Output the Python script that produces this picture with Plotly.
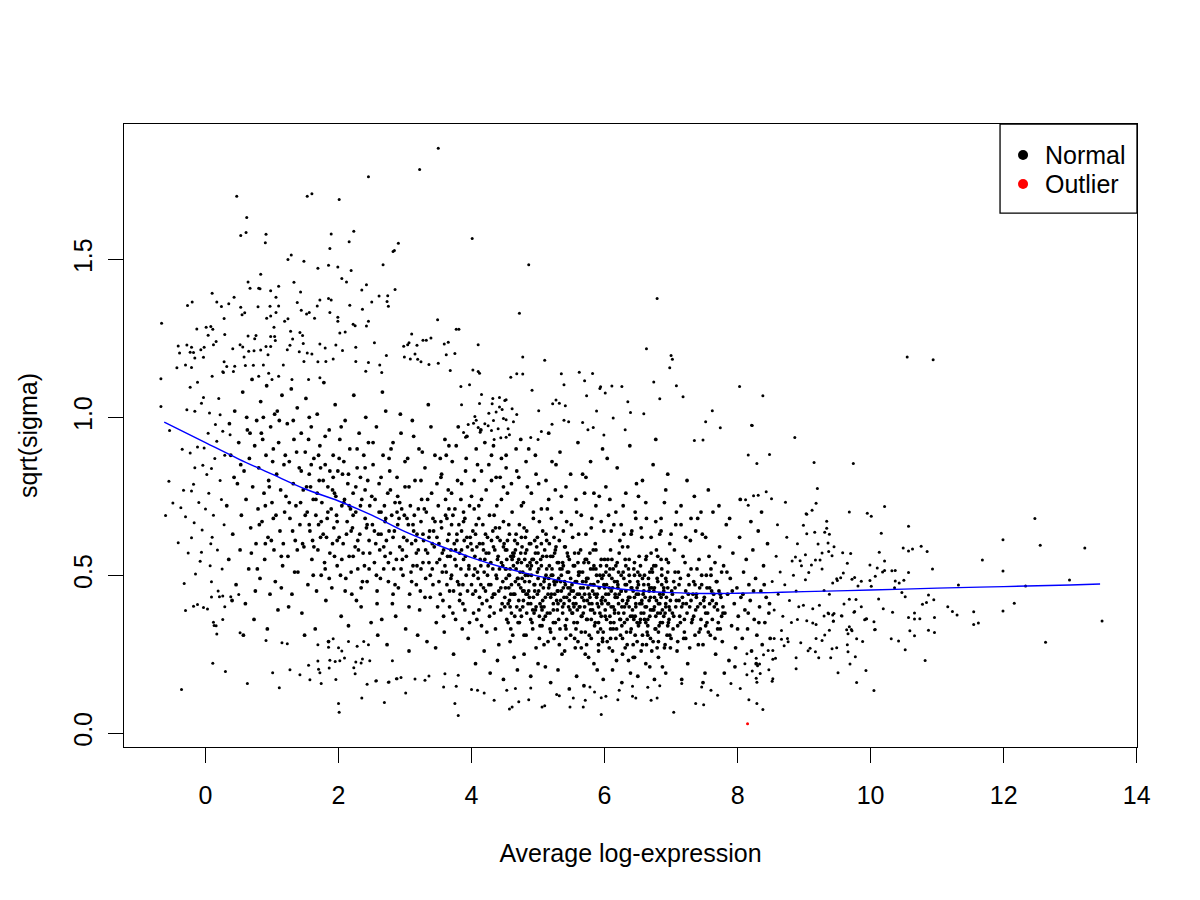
import plotly.graph_objects as go

# ---------------- data ----------------
fringe_top = [
(3.50,1.852),(3.22,1.785),(2.45,1.762),(0.47,1.70),(1.60,1.708),(1.53,1.70),(2.01,1.69),(0.62,1.633),(0.53,1.576),(0.61,1.585),
(0.91,1.58),(0.90,1.553),(1.89,1.581),(2.23,1.589),(2.16,1.556),(1.87,1.535),(2.90,1.551),(2.84,1.528),(2.82,1.525),(4.01,1.566),
(4.86,1.483),(1.29,1.514),(1.24,1.50),(1.48,1.494),(0.83,1.453),(1.69,1.472),(1.85,1.482),(1.99,1.476),(2.19,1.465),(2.67,1.483),
(2.05,1.44),(2.12,1.429),(2.42,1.42),(2.35,1.403),(2.85,1.405),(2.61,1.384),(2.74,1.385),(2.73,1.367),(2.75,1.352),(2.50,1.365),
(3.49,1.309),(4.72,1.33),(3.77,1.279),(3.81,1.279),(4.10,1.23),(4.77,1.191),(4.68,1.138),(4.77,1.137),(4.59,1.127),(4.02,1.15),
(4.10,1.145),(3.68,1.148),(-0.66,1.298),(-0.67,1.122),(-0.27,1.354),(-0.20,1.365),(0.10,1.393),(0.17,1.365),(0.24,1.351),(0.35,1.36),
(0.43,1.38),(0.64,1.429),(0.67,1.409),(0.80,1.409),(0.82,1.407),(0.98,1.401),(1.10,1.415),(1.06,1.38),(1.33,1.428),(1.43,1.397),
(1.38,1.364),(0.53,1.349),(0.55,1.325),(0.59,1.331),(0.79,1.35),(0.97,1.352),(1.10,1.353),(1.06,1.332),(1.44,1.339),(1.52,1.327),
(1.56,1.332),(1.68,1.353),(1.72,1.372),(1.85,1.376),(1.89,1.372),(1.64,1.314),(1.87,1.332),(1.99,1.317),(1.99,1.304),(2.17,1.355),
(2.36,1.342),(2.45,1.304),(2.42,1.289),(2.22,1.295),(2.25,1.29),(0.28,1.313),(-0.13,1.28),(0.01,1.285),(0.08,1.288),(0.11,1.279),
(0.04,1.26),(0.12,1.23),(0.16,1.24),(0.29,1.262),(-0.41,1.226),(-0.28,1.229),(-0.21,1.222),(-0.39,1.204),(-0.23,1.206),(-0.18,1.205),
(-0.16,1.188),(-0.03,1.19),(-0.43,1.157),(-0.21,1.158),(-0.30,1.166),(-0.07,1.214),(-0.02,1.222),(0.28,1.176),(0.26,1.144),(0.32,1.161),
(0.44,1.162),(0.41,1.217),(0.52,1.23),(0.56,1.223),(0.64,1.258),(0.74,1.249),(0.76,1.259),(0.65,1.209),(0.73,1.211),(0.83,1.213),
(0.91,1.224),(0.98,1.224),(0.94,1.198),(0.98,1.256),(1.04,1.256),(1.05,1.243),(1.03,1.285),(0.92,1.314),(0.98,1.321),(1.19,1.304),
(1.24,1.312),(1.28,1.273),(1.31,1.248),(1.42,1.269),(1.46,1.259),(1.27,1.228),(1.23,1.214),(1.41,1.208),(1.47,1.234),(1.53,1.204),
(1.60,1.201),(1.72,1.232),(1.80,1.22),(1.96,1.229),(2.06,1.212),(2.02,1.267),(2.10,1.27),(2.26,1.222),(2.54,1.236),(3.10,1.264),
(3.06,1.236),(3.04,1.23),(3.18,1.228),(3.27,1.244),(3.32,1.244),(3.39,1.251),(2.98,1.225),(2.72,1.196),(2.99,1.191),(3.15,1.201),
(3.08,1.185),(3.19,1.184),(3.24,1.176),(3.59,1.232),(3.65,1.238),(3.62,1.198),(3.75,1.202),(3.50,1.171),(3.36,1.167),(1.48,1.177),
(1.69,1.176),(1.81,1.177),(1.92,1.185),(2.26,1.177),(2.45,1.174),(2.62,1.166),(2.65,1.142),(2.41,1.146),(1.17,1.166),(0.87,1.166),
(0.72,1.165),(0.60,1.164),(0.58,1.191),(0.42,1.145),(0.27,1.142),(0.10,1.13),(-0.12,1.111),(0.95,1.14),(1.10,1.13),(0.80,1.13),
(1.00,1.12),(1.30,1.12),(1.55,1.12),(1.72,1.125),
]

fringe_mid = [
(6.79,1.376),(5.10,1.181),(6.63,1.217),(7.00,1.196),(7.02,1.184),(6.98,1.157),(8.03,1.098),(8.21,0.975),(4.12,1.14),(5.35,1.138),
(5.62,1.143),(5.82,1.139),(5.70,1.116),(5.39,1.103),(5.73,1.068),(5.94,1.097),(5.93,1.091),(6.01,1.077),(6.11,1.099),(6.26,1.098),
(6.74,1.112),(7.08,1.10),(7.18,1.065),(6.83,1.059),(6.35,1.049),(6.39,1.015),(6.59,1.011),(6.13,0.998),(5.88,1.02),(6.31,0.961),
(5.99,0.944),(5.83,0.968),(5.67,0.984),(5.75,0.961),(7.62,1.021),(7.52,0.986),(7.74,0.967),(7.35,0.927),(7.48,0.928),(5.27,1.055),
(5.22,1.043),(5.32,1.045),(5.41,1.037),(5.01,1.021),(4.91,1.086),(5.21,0.978),(5.39,0.991),(5.46,0.986),(5.05,0.955),(4.89,0.936),
(5.00,0.93),(3.84,1.098),(3.97,1.103),(4.15,1.072),(4.32,1.06),(4.42,1.063),(4.50,1.053),(4.52,1.056),(4.31,1.043),(4.12,1.044),
(3.85,1.04),(4.42,1.033),(4.46,1.025),(4.61,1.027),(4.37,1.017),(4.26,1.013),(4.05,1.003),(4.07,0.991),(3.95,0.977),(4.03,0.981),
(4.20,0.98),(4.25,0.973),(4.33,0.99),(4.48,0.996),(4.52,0.992),(4.63,0.986),(4.68,1.009),(4.40,0.964),(4.55,0.964),(4.10,0.968),
(3.88,0.952),(4.13,0.953),(4.30,0.958),(4.57,0.945),(4.52,0.937),(4.44,0.935),(4.34,0.93),(3.91,0.937),
]

fringe_right = [
(10.55,1.191),(10.94,1.182),(8.38,1.068),(8.22,0.974),(8.86,0.936),(8.16,0.881),(8.48,0.882),(8.29,0.854),(9.15,0.857),(9.74,0.854),
(9.20,0.775),(9.18,0.728),(9.12,0.706),(9.03,0.695),(8.72,0.731),(8.43,0.764),(8.51,0.742),(8.24,0.752),(8.31,0.753),(8.12,0.739),
(8.16,0.722),(9.68,0.70),(9.95,0.696),(10.01,0.687),(10.21,0.718),(10.57,0.655),(10.16,0.633),(12.47,0.68),(11.99,0.612),(12.55,0.595),
(13.22,0.586),(11.68,0.548),(11.99,0.513),(12.99,0.485),(13.48,0.355),(12.16,0.411),(11.99,0.387),(11.55,0.384),(11.62,0.349),(11.55,0.344),
(11.32,0.469),(12.33,0.466),(11.16,0.40),(11.23,0.385),(11.30,0.374),(10.93,0.52),(10.87,0.437),(10.95,0.422),(10.96,0.366),(10.78,0.408),
(10.84,0.414),(10.76,0.592),(10.85,0.575),(10.49,0.586),(10.57,0.577),(10.63,0.583),(10.57,0.509),(10.50,0.484),(10.43,0.475),(10.37,0.482),
(10.36,0.46),(10.32,0.514),(10.37,0.515),(10.21,0.545),(10.21,0.515),(10.18,0.51),(10.13,0.573),(10.10,0.523),(9.99,0.532),(10.07,0.497),
(10.47,0.445),(10.52,0.432),(10.66,0.38),(10.57,0.366),(10.66,0.361),(10.12,0.425),(10.19,0.394),(10.33,0.383),(10.01,0.465),(9.99,0.483),
(9.86,0.481),(9.81,0.466),(9.76,0.493),(9.72,0.487),(9.86,0.40),(9.78,0.423),(9.68,0.424),(9.60,0.409),(9.76,0.385),(9.93,0.361),
(10.05,0.353),(10.07,0.328),(9.70,0.569),(9.58,0.571),(9.65,0.538),(9.59,0.507),(9.55,0.492),(9.49,0.489),(9.50,0.483),(9.42,0.562),
(9.37,0.575),(9.27,0.57),(9.43,0.475),(9.45,0.59),(9.36,0.602),(9.38,0.63),(9.34,0.649),(9.34,0.671),(9.31,0.636),(9.16,0.636),
(9.04,0.631),(8.99,0.658),(9.04,0.693),(9.21,0.599),(9.24,0.548),(9.27,0.52),(9.11,0.532),(9.17,0.548),(9.07,0.509),(9.02,0.486),
(9.38,0.44),(9.30,0.452),(9.36,0.38),(9.43,0.374),(9.44,0.355),(9.57,0.371),(9.23,0.405),(9.68,0.337),(9.71,0.328),(9.13,0.394),
(9.13,0.349),(9.18,0.344),(9.04,0.356),(8.90,0.36),(8.82,0.545),(8.87,0.558),(8.94,0.546),(9.02,0.565),(12.63,0.288),(10.82,0.23),
(10.52,0.264),(10.31,0.299),(10.42,0.292),(10.66,0.308),(10.59,0.324),(10.87,0.326),(10.96,0.319),(10.74,0.362),(10.05,0.135),(9.79,0.16),
(9.93,0.198),(9.51,0.191),(9.69,0.219),(9.77,0.242),(9.88,0.29),(9.79,0.299),(9.65,0.28),(9.66,0.258),(9.42,0.267),(9.49,0.27),
(9.40,0.239),(9.22,0.239),(8.88,0.239),(8.88,0.204),(9.17,0.258),(9.09,0.269),(9.06,0.261),(9.27,0.293),(9.18,0.30),(9.31,0.311),
(9.38,0.326),(9.64,0.327),(9.72,0.324),(9.66,0.315),(10.06,0.327),(9.91,0.359),(9.94,0.362),(9.75,0.383),(9.44,0.354),(9.56,0.372),
(9.45,0.379),(9.37,0.378),(9.30,0.371),(8.99,0.405),(8.95,0.286),(8.76,0.289),(8.70,0.277),(8.66,0.297),(8.66,0.325),(8.57,0.237),
(8.53,0.234),(8.53,0.262),(8.47,0.201),(8.53,0.172),(8.52,0.164),(8.29,0.161),(8.28,0.174),(8.34,0.189),(8.22,0.197),(8.14,0.185),
(8.30,0.213),(8.33,0.219),(8.17,0.106),(8.29,0.094),(8.38,0.075),(8.11,0.22),(8.14,0.251),(8.28,0.237),(8.39,0.248),(8.46,0.262),
(8.52,0.48),(8.55,0.39),(8.58,0.56),(8.61,0.44),(8.64,0.51),(8.68,0.37),(8.71,0.47),(8.74,0.62),(8.78,0.42),(8.81,0.35),
(8.84,0.50),(8.88,0.45),(8.92,0.40),(8.96,0.53),(8.60,0.66),(8.75,0.30),(8.90,0.60),(8.55,0.30),
]

fringe_bottom = [
(-0.36,0.138),(0.11,0.221),(0.30,0.195),(0.63,0.157),(1.01,0.191),(1.11,0.144),(1.27,0.201),(1.42,0.185),(1.57,0.169),(1.74,0.157),
(1.96,0.17),(2.00,0.094),(2.01,0.066),(2.35,0.111),(2.43,0.155),(2.57,0.166),(2.69,0.097),(2.75,0.161),(2.87,0.172),(2.94,0.176),
(3.01,0.127),(3.15,0.171),(1.55,0.215),(1.69,0.228),(1.70,0.202),(1.72,0.191),(1.86,0.206),(2.23,0.207),(2.25,0.188),(2.47,0.229),
(2.36,0.235),(2.34,0.222),(2.26,0.225),(2.81,0.229),(1.87,0.231),(1.95,0.227),(2.02,0.229),(2.09,0.238),(1.69,0.28),(1.85,0.272),
(1.92,0.299),(2.00,0.27),(2.05,0.26),(2.15,0.29),(2.28,0.275),(2.38,0.29),(2.45,0.28),(0.91,0.293),(1.15,0.286),(1.23,0.283),
(0.52,0.318),(0.17,0.314),(0.12,0.351),(0.13,0.341),(0.26,0.36),(-0.30,0.388),(-0.18,0.402),(-0.12,0.407),(-0.03,0.398),(0.03,0.393),
(0.09,0.431),(0.21,0.432),(0.26,0.434),(0.38,0.432),(0.50,0.439),(3.80,0.056),(5.95,0.059),(7.04,0.066),(7.37,0.094),(7.49,0.09),
(6.70,0.104),(6.79,0.111),(6.42,0.117),(6.47,0.111),(5.53,0.111),(5.48,0.083),(5.71,0.104),(5.68,0.083),(5.95,0.112),(6.02,0.117),
(6.20,0.106),(4.57,0.076),(4.61,0.083),(4.71,0.099),(4.86,0.106),(5.06,0.083),(5.10,0.087),(5.28,0.122),(5.32,0.118),(3.75,0.094),
(4.00,0.138),(4.09,0.136),(4.19,0.127),(4.34,0.104),(4.53,0.136),(4.66,0.141),(4.89,0.143),(3.58,0.146),(3.77,0.148),(3.30,0.167),
(3.36,0.181),(3.60,0.188),(3.80,0.183),(2.88,0.172),(2.76,0.162),(2.56,0.165),(5.78,0.146),(5.85,0.13),(6.22,0.136),(6.42,0.148),
(6.65,0.145),(6.83,0.15),(7.16,0.157),(7.46,0.146),(7.60,0.136),(7.70,0.12),(7.90,0.157),(8.04,0.141),
]

fringe_left = [
(-0.67,1.034),(-0.54,0.958),(-0.35,0.899),(-0.23,0.887),(-0.12,0.906),(-0.02,0.903),(-0.55,0.798),(-0.49,0.729),(-0.37,0.714),(-0.60,0.689),
(-0.30,0.685),(-0.41,0.603),(-0.17,0.666),(-0.21,0.619),(-0.05,0.643),(-0.32,0.474),(-0.15,0.504),(-0.08,0.544),(0.09,0.479),(-0.06,0.573),
(0.08,0.60),(-0.33,0.769),(-0.21,0.767),(-0.18,0.788),(0.02,0.819),(-0.04,0.848),(0.09,0.838),(-0.16,0.84),(-0.28,1.024),(-0.16,1.019),
(-0.06,1.045),(0.06,1.014),(-0.03,1.063),(-0.23,1.095),(0.22,1.008),(0.15,0.977),(0.17,0.924),(0.26,0.956),(0.37,0.945),(0.00,0.71),
(0.05,0.76),(0.12,0.69),(0.18,0.58),(0.22,0.80),(0.25,0.52),(0.28,0.66),(0.14,0.87),(0.20,1.06),(0.04,0.95),(0.10,0.62),
(0.24,0.74),(0.29,0.88),(0.07,0.53),(-0.10,0.73),(-0.26,0.57),(0.19,0.45),(0.29,0.40),(0.16,0.34),
]

band_1 = [
(0.32,0.72),(0.35,0.55),(0.38,0.88),(0.41,0.63),(0.44,1.02),(0.46,0.47),(0.48,0.79),(0.50,0.92),(0.52,0.58),(0.54,0.69),
(0.56,1.08),(0.58,0.83),(0.60,0.41),(0.61,0.74),(0.63,0.96),(0.65,0.52),(0.66,0.87),(0.68,0.65),(0.70,1.12),(0.71,0.78),
(0.73,0.36),(0.74,0.91),(0.76,0.60),(0.77,0.99),(0.79,0.71),(0.80,0.84),(0.82,0.49),(0.83,1.05),(0.85,0.67),(0.86,0.93),
(0.88,0.76),(0.89,0.55),(0.91,0.88),(0.92,1.10),(0.94,0.62),(0.95,0.80),(0.97,0.44),(0.98,0.97),(1.00,0.73),(1.01,0.86),
(1.03,0.58),(1.04,1.01),(1.06,0.69),(1.07,0.82),(1.09,0.39),(1.10,0.92),(1.12,0.64),(1.13,0.77),(1.15,1.07),(1.16,0.53),
(1.18,0.85),(1.19,0.70),(0.36,0.98),(0.43,0.81),(0.57,0.31),(0.62,1.00),(0.69,0.57),(0.75,0.45),(0.81,0.66),(0.87,1.00),
(0.93,0.33),(0.99,0.61),(1.05,0.48),(1.11,0.99),(1.17,0.60),(0.40,0.42),(0.53,0.85),(0.67,0.95),(0.78,0.52),(0.90,0.72),
(1.02,0.90),(1.14,0.46),
]

band_2 = [
(1.21,0.75),(1.23,0.98),(1.24,0.56),(1.26,0.86),(1.27,0.68),(1.29,1.09),(1.30,0.44),(1.32,0.79),(1.33,0.93),(1.35,0.61),
(1.36,0.72),(1.38,1.03),(1.39,0.51),(1.41,0.84),(1.42,0.66),(1.44,0.95),(1.45,0.38),(1.47,0.77),(1.48,0.59),(1.50,0.89),
(1.51,1.06),(1.53,0.70),(1.54,0.47),(1.56,0.82),(1.57,0.64),(1.59,0.97),(1.60,0.55),(1.62,0.74),(1.63,0.87),(1.65,0.33),
(1.66,0.69),(1.68,1.01),(1.69,0.58),(1.71,0.80),(1.72,0.91),(1.74,0.50),(1.75,0.73),(1.77,0.63),(1.78,1.11),(1.80,0.85),
(1.81,0.42),(1.83,0.68),(1.84,0.78),(1.86,0.96),(1.87,0.57),(1.89,0.71),(1.90,0.46),(1.92,0.88),(1.93,0.65),(1.95,1.04),
(1.96,0.75),(1.98,0.53),(1.99,0.83),(2.01,0.62),(2.02,0.93),(2.04,0.37),(2.05,0.72),(2.07,0.60),(2.08,0.86),(2.10,0.99),
(2.11,0.49),(2.13,0.67),(2.14,0.79),(2.16,0.56),(2.17,0.90),(2.19,0.64),(2.20,0.44),(2.22,0.76),(2.23,1.07),(2.25,0.59),
(2.26,0.70),(2.28,0.84),(2.29,0.52),(2.31,0.95),(2.32,0.63),(2.34,0.40),(2.35,0.74),(2.37,0.57),(2.38,0.88),(2.40,0.68),
(2.41,1.00),(2.43,0.48),(2.44,0.80),(2.46,0.61),(2.47,0.72),(2.49,0.35),(1.25,0.40),(1.31,0.64),(1.37,0.89),(1.43,0.73),
(1.49,0.31),(1.55,0.93),(1.61,0.61),(1.67,0.45),(1.73,0.84),(1.79,0.54),(1.85,0.29),(1.91,0.77),(1.97,0.69),(2.03,0.50),
(2.09,0.74),(2.15,0.34),(2.21,0.65),(2.27,0.42),(2.33,0.81),(2.39,0.53),(2.45,0.92),(1.34,0.51),(1.58,0.78),(1.82,0.62),
(2.06,0.82),(2.30,0.58),(1.46,0.60),(1.70,0.66),(1.94,0.56),(2.18,0.71),(2.42,0.65),
]

band_3 = [
(2.51,0.66),(2.52,0.85),(2.54,0.54),(2.55,0.74),(2.57,0.97),(2.58,0.45),(2.60,0.63),(2.61,0.79),(2.62,0.58),(2.64,0.70),
(2.65,0.36),(2.67,0.88),(2.68,0.52),(2.70,0.67),(2.71,1.02),(2.72,0.61),(2.74,0.76),(2.75,0.48),(2.77,0.83),(2.78,0.57),
(2.80,0.69),(2.81,0.41),(2.82,0.92),(2.84,0.64),(2.85,0.73),(2.87,0.55),(2.88,0.81),(2.90,0.46),(2.91,0.68),(2.92,0.59),
(2.94,0.95),(2.95,0.71),(2.97,0.50),(2.98,0.62),(3.00,0.78),(3.01,0.33),(3.02,0.56),(3.04,0.87),(3.05,0.66),(3.07,0.44),
(3.08,0.72),(3.10,0.60),(3.11,0.99),(3.12,0.53),(3.14,0.69),(3.15,0.80),(3.17,0.47),(3.18,0.63),(3.20,0.58),(3.21,0.90),
(3.22,0.39),(3.24,0.67),(3.25,0.74),(3.27,0.54),(3.28,0.61),(3.30,0.84),(3.31,0.49),(3.32,0.70),(3.34,0.57),(3.35,1.04),
(3.37,0.64),(3.38,0.43),(3.40,0.76),(3.41,0.52),(3.42,0.68),(3.44,0.59),(3.45,0.88),(3.47,0.35),(3.48,0.62),(3.50,0.72),
(3.51,0.48),(3.52,0.55),(3.54,0.81),(3.55,0.65),(3.57,0.42),(3.58,0.58),(3.60,0.93),(3.61,0.69),(3.62,0.51),(3.64,0.61),
(3.65,0.77),(3.67,0.45),(3.68,0.56),(3.70,0.66),(3.71,0.86),(3.72,0.38),(3.74,0.60),(3.75,0.71),(3.77,0.53),(3.78,0.63),
(3.80,0.97),(3.81,0.47),(3.82,0.57),(3.84,0.74),(3.85,0.64),(3.87,0.41),(3.88,0.55),(3.90,0.68),(3.91,0.83),(3.92,0.50),
(3.94,0.59),(3.95,0.30),(3.97,0.72),(3.98,0.62),(2.56,0.60),(2.63,0.49),(2.69,0.72),(2.76,0.64),(2.83,0.52),(2.89,0.75),
(2.96,0.58),(3.03,0.68),(3.09,0.51),(3.16,0.61),(3.23,0.45),(3.29,0.71),(3.36,0.54),(3.43,0.64),(3.49,0.40),(3.56,0.51),
(3.63,0.68),(3.69,0.49),(3.76,0.58),(3.83,0.44),(3.89,0.61),(3.96,0.52),(2.59,0.31),(2.73,0.28),(2.86,0.37),(3.06,0.26),
(3.19,0.31),(3.33,0.29),(3.46,0.27),(3.59,0.32),(3.73,0.25),(3.86,0.33),(2.66,1.08),(2.93,1.01),(3.13,0.94),(3.39,0.97),
(3.66,0.91),(3.93,0.94),(2.79,0.90),(3.26,0.89),(3.53,0.87),(3.79,0.80),
]

band_4 = [
(4.01,0.58),(4.02,0.44),(4.04,0.71),(4.05,0.52),(4.06,0.63),(4.08,0.36),(4.09,0.85),(4.10,0.49),(4.12,0.60),(4.13,0.55),
(4.15,0.74),(4.16,0.41),(4.17,0.66),(4.19,0.51),(4.20,0.92),(4.22,0.57),(4.23,0.32),(4.24,0.62),(4.26,0.47),(4.27,0.69),
(4.29,0.54),(4.30,0.80),(4.31,0.43),(4.33,0.59),(4.34,0.38),(4.36,0.65),(4.37,0.50),(4.38,0.72),(4.40,0.56),(4.41,0.28),
(4.43,0.61),(4.44,0.46),(4.45,0.87),(4.47,0.53),(4.48,0.67),(4.50,0.40),(4.51,0.58),(4.52,0.49),(4.54,0.76),(4.55,0.35),
(4.57,0.63),(4.58,0.52),(4.59,0.44),(4.61,0.70),(4.62,0.57),(4.64,0.24),(4.65,0.61),(4.66,0.48),(4.68,0.83),(4.69,0.54),
(4.71,0.42),(4.72,0.66),(4.73,0.51),(4.75,0.37),(4.76,0.59),(4.78,0.73),(4.79,0.45),(4.80,0.55),(4.82,0.31),(4.83,0.64),
(4.85,0.50),(4.86,0.90),(4.87,0.43),(4.89,0.60),(4.90,0.53),(4.92,0.39),(4.93,0.68),(4.94,0.47),(4.96,0.57),(4.97,0.27),
(4.99,0.62),(5.00,0.49),(5.01,0.79),(5.03,0.41),(5.04,0.55),(5.06,0.34),(5.07,0.64),(5.08,0.46),(5.10,0.58),(5.11,0.21),
(5.13,0.52),(5.14,0.71),(5.15,0.44),(5.17,0.60),(5.18,0.38),(5.20,0.50),(5.21,0.86),(5.22,0.56),(5.24,0.30),(5.25,0.47),
(5.27,0.65),(5.28,0.42),(5.29,0.54),(5.31,0.36),(5.32,0.61),(5.34,0.48),(5.35,0.75),(5.36,0.25),(5.38,0.53),(5.39,0.43),
(5.41,0.59),(5.42,0.33),(5.43,0.67),(5.45,0.46),(5.46,0.51),(5.48,0.39),(5.49,0.82),(4.03,0.50),(4.07,0.66),(4.11,0.39),
(4.14,0.47),(4.18,0.58),(4.21,0.45),(4.25,0.53),(4.28,0.40),(4.32,0.64),(4.35,0.44),(4.39,0.62),(4.42,0.52),(4.46,0.41),
(4.49,0.60),(4.53,0.55),(4.56,0.46),(4.60,0.38),(4.63,0.56),(4.67,0.63),(4.70,0.49),(4.74,0.57),(4.77,0.40),(4.81,0.62),
(4.84,0.44),(4.88,0.52),(4.91,0.35),(4.95,0.45),(4.98,0.54),(5.02,0.37),(5.05,0.60),(5.09,0.40),(5.12,0.63),(5.16,0.49),
(5.19,0.56),(5.23,0.39),(5.26,0.58),(5.30,0.45),(5.33,0.52),(5.37,0.40),(5.40,0.48),(5.44,0.57),(5.47,0.44),(4.06,0.22),
(4.19,0.26),(4.28,0.19),(4.39,0.23),(4.48,0.17),(4.58,0.29),(4.69,0.20),(4.79,0.25),(4.89,0.18),(5.00,0.22),(5.09,0.28),
(5.19,0.16),(5.30,0.20),(5.40,0.26),(5.47,0.14),(4.14,0.96),(4.33,0.91),(4.52,0.88),(4.74,0.93),(4.96,0.88),(5.16,0.95),
(5.33,0.89),(4.43,0.81),(4.84,0.78),(5.26,0.77),
]

band_5 = [
(5.51,0.47),(5.52,0.62),(5.54,0.35),(5.55,0.53),(5.57,0.41),(5.58,0.70),(5.60,0.29),(5.61,0.50),(5.62,0.44),(5.64,0.58),
(5.65,0.37),(5.67,0.82),(5.68,0.46),(5.69,0.54),(5.71,0.32),(5.72,0.63),(5.74,0.42),(5.75,0.49),(5.76,0.24),(5.78,0.57),
(5.79,0.39),(5.81,0.68),(5.82,0.45),(5.83,0.52),(5.85,0.34),(5.86,0.60),(5.88,0.43),(5.89,0.20),(5.90,0.48),(5.92,0.75),
(5.93,0.38),(5.95,0.55),(5.96,0.41),(5.97,0.30),(5.99,0.64),(6.00,0.46),(6.02,0.51),(6.03,0.36),(6.04,0.87),(6.06,0.44),
(6.07,0.27),(6.09,0.58),(6.10,0.40),(6.11,0.49),(6.13,0.33),(6.14,0.66),(6.16,0.43),(6.17,0.53),(6.18,0.23),(6.20,0.47),
(6.21,0.38),(6.23,0.61),(6.24,0.31),(6.25,0.50),(6.27,0.42),(6.28,0.72),(6.30,0.35),(6.31,0.55),(6.32,0.45),(6.34,0.28),
(6.35,0.59),(6.37,0.40),(6.38,0.48),(6.39,0.19),(6.41,0.64),(6.42,0.37),(6.44,0.52),(6.45,0.43),(6.46,0.31),(6.48,0.79),
(6.49,0.46),(6.51,0.34),(6.52,0.56),(6.53,0.41),(6.55,0.26),(6.56,0.62),(6.58,0.44),(6.59,0.38),(6.60,0.50),(6.62,0.22),
(6.63,0.68),(6.65,0.36),(6.66,0.47),(6.67,0.42),(6.69,0.30),(6.70,0.57),(6.72,0.39),(6.73,0.85),(6.74,0.45),(6.76,0.33),
(6.77,0.53),(6.79,0.27),(6.80,0.48),(6.81,0.41),(6.83,0.63),(6.84,0.35),(6.86,0.50),(6.87,0.21),(6.88,0.44),(6.90,0.73),
(6.91,0.38),(6.93,0.55),(6.94,0.31),(6.95,0.46),(6.97,0.40),(6.98,0.60),(5.53,0.41),(5.56,0.48),(5.59,0.39),(5.63,0.51),
(5.66,0.43),(5.70,0.40),(5.73,0.55),(5.77,0.44),(5.80,0.36),(5.84,0.47),(5.87,0.52),(5.91,0.40),(5.94,0.33),(5.98,0.50),
(6.01,0.42),(6.05,0.55),(6.08,0.37),(6.12,0.46),(6.15,0.39),(6.19,0.54),(6.22,0.44),(6.26,0.34),(6.29,0.49),(6.33,0.41),
(6.36,0.52),(6.40,0.33),(6.43,0.45),(6.47,0.40),(6.50,0.51),(6.54,0.36),(6.57,0.49),(6.61,0.43),(6.64,0.32),(6.68,0.51),
(6.71,0.46),(6.75,0.40),(6.78,0.58),(6.82,0.34),(6.85,0.43),(6.89,0.37),(6.92,0.49),(6.96,0.35),(5.55,0.30),(5.73,0.28),
(5.91,0.26),(6.09,0.30),(6.27,0.25),(6.45,0.24),(6.63,0.28),(6.81,0.24),(6.99,0.27),(5.58,0.18),(5.69,0.15),(5.84,0.22),
(5.98,0.17),(6.12,0.20),(6.26,0.16),(6.36,0.23),(6.50,0.18),(6.68,0.21),(6.75,0.17),(6.92,0.19),(5.60,0.92),(5.79,0.86),
(5.97,0.90),(6.19,0.84),(6.38,0.91),(6.57,0.80),(6.77,0.93),(6.95,0.82),(5.70,0.76),(6.08,0.74),(6.46,0.70),(6.85,0.68),
]

band_6 = [
(7.01,0.45),(7.03,0.33),(7.05,0.58),(7.07,0.40),(7.09,0.26),(7.11,0.51),(7.13,0.37),(7.15,0.66),(7.17,0.43),(7.19,0.30),
(7.21,0.54),(7.23,0.41),(7.25,0.22),(7.27,0.47),(7.29,0.61),(7.31,0.35),(7.33,0.44),(7.35,0.75),(7.37,0.39),(7.39,0.52),
(7.41,0.28),(7.43,0.46),(7.45,0.36),(7.47,0.63),(7.49,0.42),(7.51,0.19),(7.53,0.50),(7.55,0.38),(7.57,0.56),(7.59,0.31),
(7.61,0.45),(7.63,0.70),(7.65,0.40),(7.67,0.25),(7.69,0.48),(7.71,0.35),(7.73,0.59),(7.75,0.43),(7.77,0.29),(7.79,0.53),
(7.81,0.38),(7.83,0.66),(7.85,0.44),(7.87,0.23),(7.89,0.49),(7.91,0.34),(7.93,0.57),(7.95,0.41),(7.97,0.27),(7.99,0.46),
(8.01,0.37),(8.03,0.62),(8.05,0.43),(8.07,0.30),(8.09,0.51),(8.11,0.39),(8.13,0.55),(8.15,0.33),(8.17,0.47),(8.19,0.42),
(8.21,0.26),(8.23,0.58),(8.25,0.36),(8.27,0.49),(8.29,0.31),(8.31,0.64),(8.33,0.40),(8.35,0.45),(8.37,0.28),(8.39,0.53),
(8.41,0.35),(8.43,0.43),(8.45,0.60),(8.47,0.38),(8.49,0.30),(7.04,0.48),(7.12,0.42),(7.20,0.36),(7.28,0.40),(7.36,0.47),
(7.44,0.41),(7.52,0.34),(7.60,0.50),(7.68,0.41),(7.76,0.37),(7.84,0.51),(7.92,0.45),(8.00,0.33),(8.08,0.44),(8.16,0.38),
(8.24,0.45),(8.32,0.35),(8.40,0.47),(8.48,0.41),(7.08,0.70),(7.24,0.80),(7.40,0.68),(7.56,0.77),(7.72,0.72),(7.88,0.68),
(8.04,0.74),(8.20,0.67),(8.36,0.70),(7.16,0.17),(7.48,0.16),(7.80,0.19),(7.96,0.21),(8.28,0.22),
]

core_a = [
(3.51,0.60),(3.53,0.44),(3.54,0.67),(3.56,0.57),(3.58,0.37),(3.60,0.53),(3.61,0.74),(3.63,0.47),(3.64,0.56),(3.66,0.63),
(3.67,0.40),(3.69,0.58),(3.70,0.50),(3.72,0.69),(3.73,0.45),(3.75,0.55),(3.76,0.36),(3.78,0.61),(3.79,0.48),(3.81,0.66),
(3.82,0.42),(3.84,0.52),(3.85,0.58),(3.87,0.47),(3.88,0.70),(3.90,0.39),(3.91,0.56),(3.93,0.62),(3.94,0.45),(3.96,0.53),
(3.97,0.35),(3.99,0.60),(4.00,0.47),(4.02,0.64),(4.03,0.38),(4.05,0.56),(4.06,0.45),(4.08,0.59),(4.09,0.51),(4.11,0.68),
(4.12,0.43),(4.14,0.53),(4.15,0.34),(4.17,0.60),(4.18,0.46),(4.20,0.55),(4.21,0.63),(4.23,0.42),(4.24,0.50),(4.26,0.57),
(4.27,0.37),(4.29,0.47),(4.30,0.61),(4.32,0.52),(4.33,0.44),(4.35,0.58),(4.36,0.33),(4.38,0.49),(4.39,0.55),(4.41,0.45),
(4.42,0.65),(4.44,0.39),(4.45,0.54),(4.47,0.48),(4.48,0.59),(4.50,0.43),(4.51,0.52),(4.53,0.36),(4.54,0.61),(4.56,0.50),
(4.57,0.42),(4.59,0.56),(4.60,0.47),(4.62,0.31),(4.63,0.53),(4.65,0.44),(4.66,0.58),(4.68,0.40),(4.69,0.49),(4.71,0.55),
(4.72,0.35),(4.74,0.46),(4.75,0.62),(4.77,0.51),(4.78,0.42),(4.80,0.48),(4.81,0.57),(4.83,0.38),(4.84,0.53),(4.86,0.45),
(4.87,0.60),(4.89,0.41),(4.90,0.50),(4.92,0.33),(4.93,0.55),(4.95,0.47),(4.96,0.39),(4.98,0.59),(4.99,0.44),
]

core_b = [
(5.01,0.52),(5.02,0.30),(5.04,0.47),(5.05,0.40),(5.07,0.56),(5.08,0.36),(5.10,0.49),(5.11,0.43),(5.13,0.61),(5.14,0.38),
(5.16,0.46),(5.17,0.53),(5.19,0.32),(5.20,0.44),(5.22,0.50),(5.23,0.41),(5.25,0.57),(5.26,0.35),(5.28,0.48),(5.29,0.45),
(5.31,0.54),(5.32,0.28),(5.34,0.42),(5.35,0.50),(5.37,0.38),(5.38,0.46),(5.40,0.59),(5.41,0.34),(5.43,0.43),(5.44,0.51),
(5.46,0.40),(5.47,0.55),(5.49,0.31),(5.50,0.45),(5.52,0.38),(5.53,0.53),(5.55,0.43),(5.56,0.27),(5.58,0.48),(5.59,0.35),
(5.61,0.57),(5.62,0.40),(5.64,0.46),(5.65,0.32),(5.67,0.51),(5.68,0.38),(5.70,0.44),(5.71,0.25),(5.73,0.49),(5.74,0.36),
(5.76,0.54),(5.77,0.41),(5.79,0.47),(5.80,0.30),(5.82,0.39),(5.83,0.58),(5.85,0.44),(5.86,0.35),(5.88,0.50),(5.89,0.41),
(5.91,0.28),(5.92,0.46),(5.94,0.53),(5.95,0.37),(5.97,0.43),(5.98,0.32),(6.00,0.55),(6.01,0.39),(6.03,0.47),(6.04,0.29),
(6.06,0.41),(6.07,0.50),(6.09,0.35),(6.10,0.45),(6.12,0.26),(6.13,0.52),(6.15,0.38),(6.16,0.44),(6.18,0.33),(6.19,0.48),
(6.21,0.41),(6.22,0.57),(6.24,0.36),(6.25,0.45),(6.27,0.30),(6.28,0.51),(6.30,0.40),(6.31,0.27),(6.33,0.47),(6.34,0.36),
(6.36,0.43),(6.37,0.55),(6.39,0.32),(6.40,0.46),(6.42,0.39),(6.43,0.24),(6.45,0.50),(6.46,0.37),(6.48,0.44),(6.49,0.29),
]

core_c = [
(6.51,0.47),(6.53,0.35),(6.54,0.53),(6.56,0.41),(6.57,0.28),(6.59,0.45),(6.60,0.36),(6.62,0.55),(6.63,0.40),(6.65,0.31),
(6.66,0.49),(6.68,0.37),(6.69,0.43),(6.71,0.26),(6.72,0.51),(6.74,0.39),(6.75,0.46),(6.77,0.33),(6.78,0.42),(6.80,0.56),
(6.81,0.29),(6.83,0.44),(6.84,0.38),(6.86,0.52),(6.87,0.35),(6.89,0.45),(6.90,0.27),(6.92,0.41),(6.93,0.48),(6.95,0.34),
(6.96,0.54),(6.98,0.39),(7.00,0.30),(7.02,0.44),(7.04,0.37),(7.06,0.51),(7.08,0.42),(7.10,0.29),(7.12,0.47),(7.14,0.35),
(7.16,0.40),(7.18,0.56),(7.20,0.32),(7.22,0.45),(7.24,0.38),(7.26,0.50),(7.28,0.27),(7.30,0.42),(7.32,0.36),(7.34,0.48),
(7.36,0.31),(7.38,0.44),(7.40,0.40),(7.42,0.55),(7.44,0.33),(7.46,0.47),(7.48,0.28),(7.50,0.43),(7.52,0.38),(7.54,0.46),
(7.56,0.32),(7.58,0.41),(7.60,0.52),(7.62,0.36),(7.64,0.44),(7.66,0.30),(7.68,0.48),(7.70,0.39),(7.72,0.45),(7.74,0.33),
(7.76,0.51),(7.78,0.40),
]

core_d = [
(1.52,0.78),(1.56,0.66),(1.59,0.85),(1.63,0.59),(1.66,0.74),(1.70,0.88),(1.73,0.62),(1.77,0.80),(1.80,0.52),(1.84,0.70),
(1.87,0.83),(1.91,0.60),(1.94,0.76),(1.98,0.67),(2.01,0.87),(2.05,0.55),(2.08,0.73),(2.12,0.63),(2.15,0.82),(2.19,0.51),
(2.22,0.69),(2.26,0.78),(2.29,0.61),(2.33,0.72),(2.36,0.48),(2.40,0.84),(2.43,0.66),(2.47,0.57),(2.50,0.75),(2.54,0.64),
(2.57,0.50),(2.61,0.70),(2.64,0.81),(2.68,0.59),(2.71,0.68),(2.75,0.54),(2.78,0.77),(2.82,0.62),(2.85,0.47),(2.89,0.66),
(2.92,0.73),(2.96,0.55),(2.99,0.69),(3.03,0.61),(3.06,0.78),(3.10,0.48),(3.13,0.64),(3.17,0.57),(3.20,0.71),(3.24,0.52),
(3.27,0.63),(3.31,0.58),(3.34,0.74),(3.38,0.50),(3.41,0.60),(3.45,0.67),(3.48,0.54),
]

core_e = [
(4.51,0.46),(4.53,0.58),(4.55,0.41),(4.57,0.50),(4.59,0.33),(4.61,0.55),(4.63,0.44),(4.65,0.37),(4.67,0.52),(4.69,0.60),
(4.71,0.47),(4.73,0.39),(4.75,0.54),(4.77,0.45),(4.79,0.31),(4.81,0.50),(4.83,0.58),(4.85,0.41),(4.87,0.48),(4.89,0.36),
(4.91,0.55),(4.93,0.43),(4.95,0.61),(4.97,0.40),(4.99,0.51),(5.01,0.45),(5.03,0.34),(5.05,0.53),(5.07,0.42),(5.09,0.48),
(5.11,0.37),(5.13,0.56),(5.15,0.29),(5.17,0.47),(5.19,0.43),(5.21,0.52),(5.23,0.35),(5.25,0.44),(5.27,0.59),(5.29,0.39),
(5.31,0.49),(5.33,0.33),(5.35,0.45),(5.37,0.54),(5.39,0.41),(5.41,0.47),(5.43,0.36),(5.45,0.56),(5.47,0.42),(5.49,0.49),
(5.51,0.38),(5.53,0.45),(5.55,0.57),(5.57,0.33),(5.59,0.44),(5.61,0.51),(5.63,0.40),(5.65,0.27),(5.67,0.48),(5.69,0.42),
(5.71,0.55),(5.73,0.36),(5.75,0.46),(5.77,0.31),(5.79,0.52),(5.81,0.41),(5.83,0.47),(5.85,0.38),(5.87,0.58),(5.89,0.44),
(5.91,0.35),(5.93,0.50),(5.95,0.42),(5.97,0.29),(5.99,0.47),(6.01,0.37),(6.03,0.53),(6.05,0.41),(6.07,0.46),(6.09,0.33),
(6.11,0.55),(6.13,0.40),(6.15,0.48),(6.17,0.30),(6.19,0.43),(6.21,0.51),(6.23,0.36),(6.25,0.45),(6.27,0.59),(6.29,0.38),
(6.31,0.47),(6.33,0.32),(6.35,0.42),(6.37,0.50),(6.39,0.37),(6.41,0.46),(6.43,0.28),(6.45,0.54),(6.47,0.41),(6.49,0.35),
(6.51,0.44),(6.53,0.50),(6.55,0.38),(6.57,0.31),(6.59,0.47),(6.61,0.40),(6.63,0.56),(6.65,0.34),(6.67,0.45),(6.69,0.39),
(6.71,0.52),(6.73,0.29),(6.75,0.43),(6.77,0.37),(6.79,0.49),(6.81,0.32),(6.83,0.41),(6.85,0.55),(6.87,0.39),(6.89,0.46),
(6.91,0.28),(6.93,0.43),(6.95,0.51),(6.97,0.36),(6.99,0.42),(7.02,0.38),(7.06,0.46),(7.10,0.34),(7.14,0.49),(7.18,0.41),
(7.22,0.30),(7.26,0.44),(7.30,0.52),(7.34,0.37),(7.38,0.43),(7.42,0.32),(7.46,0.50),(7.50,0.40),(7.54,0.35),(7.58,0.46),
(7.62,0.42),(7.66,0.54),(7.70,0.33),(7.74,0.44),(7.78,0.38),(4.52,0.52),(4.58,0.40),(4.64,0.57),(4.70,0.35),(4.76,0.49),
(4.82,0.44),(4.88,0.54),(4.94,0.38),(5.00,0.57),(5.06,0.39),(5.12,0.50),(5.18,0.33),(5.24,0.48),(5.30,0.41),(5.36,0.52),
(5.42,0.30),(5.48,0.46),(5.54,0.40),(5.60,0.54),(5.66,0.37),(5.72,0.48),(5.78,0.43),(5.84,0.53),(5.90,0.32),(5.96,0.49),
(6.02,0.44),(6.08,0.52),(6.14,0.35),(6.20,0.46),(6.26,0.40),(6.32,0.53),(6.38,0.43),(6.44,0.36),(6.50,0.48),(6.56,0.42),
(6.62,0.35),(6.68,0.46),(6.74,0.53),(6.80,0.38),(6.86,0.47),(6.92,0.40),(6.98,0.31),
]

core_f = [
(3.55,0.82),(3.62,0.88),(3.70,0.76),(3.77,0.91),(3.85,0.79),(3.92,0.87),(4.00,0.75),(4.07,0.90),(4.15,0.83),(4.22,0.77),
(4.30,0.88),(4.37,0.81),(4.45,0.74),(4.52,0.84),(4.60,0.79),(4.67,0.90),(4.75,0.72),(4.82,0.86),(4.90,0.76),(4.97,0.82),
(5.05,0.71),(5.12,0.80),(5.20,0.68),(5.27,0.85),(5.35,0.70),(5.42,0.78),(5.50,0.66),(5.57,0.74),(5.65,0.69),(5.72,0.81),
(5.80,0.65),(5.87,0.72),(5.95,0.67),(6.02,0.78),(6.10,0.64),(6.17,0.70),(6.25,0.66),(6.32,0.76),(6.40,0.63),(6.47,0.68),
(6.55,0.65),(6.62,0.73),(6.70,0.62),(6.77,0.67),(6.85,0.64),(6.92,0.77),(7.00,0.63),(7.07,0.66),(7.15,0.72),(7.22,0.62),
(7.30,0.68),(7.37,0.64),(7.45,0.70),(7.52,0.62),(4.04,0.80),(4.26,0.85),(4.48,0.78),(4.71,0.81),(4.93,0.70),(5.16,0.74),
(5.38,0.64),(5.61,0.63),(5.84,0.76),(6.06,0.69),(6.29,0.63),(6.51,0.75),(3.66,0.71),(3.88,0.67),(4.11,0.72),(4.34,0.69),
(4.56,0.66),(4.79,0.65),(5.02,0.67),(5.24,0.62),
]

core_g = [
(0.84,0.95),(0.96,0.78),(1.08,1.02),(1.20,0.88),(1.32,0.99),(1.44,0.83),(1.56,1.00),(1.68,0.76),(1.80,0.94),(1.92,0.81),
(2.04,0.97),(2.16,0.72),(2.28,0.90),(2.40,0.77),(2.52,0.92),(2.64,0.63),(2.76,0.87),(2.88,0.70),(3.00,0.86),(3.12,0.66),
(3.24,0.80),(3.36,0.62),(3.48,0.79),(0.90,0.60),(1.02,0.68),(1.14,0.56),(1.26,0.73),(1.38,0.58),(1.50,0.69),(1.62,0.50),
(1.74,0.67),(1.86,0.49),(1.98,0.61),(2.10,0.45),(2.22,0.56),(2.34,0.46),(2.46,0.52),(2.58,0.41),(2.70,0.56),(2.82,0.44),
(2.94,0.52),(3.06,0.40),(3.18,0.53),(3.30,0.43),(3.42,0.47),
]

outlier_x = [8.15]
outlier_y = [0.030]

trend_x = [-0.62, 0.0, 0.5, 1.0, 1.5, 2.0, 2.5, 3.0, 3.5, 4.0, 4.5, 5.0, 5.5, 6.0, 6.5, 7.0, 7.5, 8.0, 8.5, 9.0, 10.0, 11.0, 12.0, 13.0, 13.45]
trend_y = [0.985, 0.920, 0.868, 0.820, 0.773, 0.735, 0.690, 0.638, 0.595, 0.556, 0.523, 0.497, 0.477, 0.462, 0.451, 0.445, 0.442, 0.443, 0.445, 0.448, 0.453, 0.459, 0.464, 0.469, 0.472]

x_ticks = [0, 2, 4, 6, 8, 10, 12, 14]
y_ticks = [0.0, 0.5, 1.0, 1.5]
y_tick_text = ["0.0", "0.5", "1.0", "1.5"]
legend_labels = ["Normal", "Outlier"]
legend_colors = ["black", "#ff0000"]

# ---------------- figure ----------------
sparse = fringe_top + fringe_mid + fringe_right + fringe_bottom + fringe_left
dense = (band_1 + band_2 + band_3 + band_4 + band_5 + band_6
         + core_a + core_b + core_c + core_d + core_e + core_f + core_g)

FONT = "Liberation Sans, Arial, Helvetica, sans-serif"

fig = go.Figure()
fig.add_trace(go.Scatter(x=[p[0] for p in sparse], y=[p[1] for p in sparse], mode="markers",
                         showlegend=False, hoverinfo="skip",
                         marker=dict(color="black", size=3, line=dict(width=0))))
fig.add_trace(go.Scatter(x=[p[0] for p in dense], y=[p[1] for p in dense], mode="markers",
                         showlegend=False, hoverinfo="skip",
                         marker=dict(color="black", size=3.8, line=dict(width=0))))
fig.add_trace(go.Scatter(x=outlier_x, y=outlier_y, mode="markers", showlegend=False,
                         marker=dict(color="#ff0000", size=3, line=dict(width=0))))
fig.add_trace(go.Scatter(x=trend_x, y=trend_y, mode="lines", showlegend=False,
                         line=dict(color="#0000ff", width=1.4, shape="spline")))

# legend (drawn in paper coordinates of the plot area)
shapes = [dict(type="rect", xref="paper", yref="paper", x0=0.8648, x1=1.0, y0=0.857, y1=1.0,
               line=dict(color="black", width=1.3), fillcolor="white", layer="above")]
annotations = []
legend_y = [0.9502, 0.9037]
for lab, col, ly in zip(legend_labels, legend_colors, legend_y):
    shapes.append(dict(type="circle", xref="paper", yref="paper",
                       xsizemode="pixel", ysizemode="pixel",
                       xanchor=0.8875, yanchor=ly, x0=-5, x1=5, y0=-5, y1=5,
                       fillcolor=col, line=dict(width=0), layer="above"))
    annotations.append(dict(xref="paper", yref="paper", x=0.9072, y=ly, text=lab,
                            showarrow=False, xanchor="left", yanchor="middle",
                            font=dict(size=25, color="black")))

fig.update_layout(
    width=1200, height=900,
    paper_bgcolor="white", plot_bgcolor="white",
    margin=dict(l=116, r=71, t=116, b=161),
    font=dict(family=FONT, size=25, color="black"),
    showlegend=False,
    shapes=shapes, annotations=annotations,
    xaxis=dict(range=[-1.225, 14.005], tickmode="array", tickvals=x_ticks,
               ticks="outside", ticklen=15, tickwidth=1.3, tickcolor="black",
               showline=True, linecolor="black", linewidth=1.3, mirror=True,
               showgrid=False, zeroline=False,
               tickfont=dict(size=25), ticklabelstandoff=11,
               title=dict(text="Average log-expression", font=dict(size=25), standoff=36)),
    yaxis=dict(range=[-0.044, 1.929], tickmode="array", tickvals=y_ticks, ticktext=y_tick_text,
               ticks="outside", ticklen=15, tickwidth=1.3, tickcolor="black",
               showline=True, linecolor="black", linewidth=1.3, mirror=True,
               showgrid=False, zeroline=False, tickangle=-90,
               tickfont=dict(size=25), ticklabelstandoff=6,
               title=dict(text="sqrt(sigma)", font=dict(size=25), standoff=24)),
)

fig.write_html("out.html")
